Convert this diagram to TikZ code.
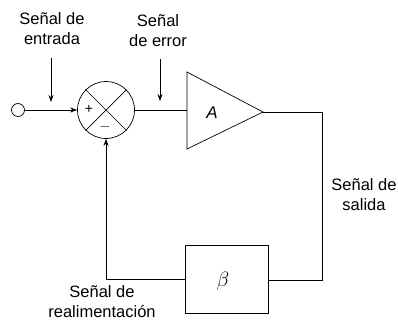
\documentclass[tikz,border=0pt]{standalone}
\usepackage{fontspec}
\setmainfont{Liberation Sans}
\usetikzlibrary{arrows.meta}
\begin{document}
\begin{tikzpicture}[x=1pt,y=-1pt,
  line width=0.7pt,
  lbl/.style={font=\fontsize{16.5}{20}\selectfont, align=center, inner sep=0pt},
  arr/.style={-{Stealth[length=7pt,width=5pt]}},
  sign/.style={font=\fontsize{14}{14}\selectfont, inner sep=0pt}]
\useasboundingbox (0,0) rectangle (398,322);
% input terminal
\node[circle, draw, minimum size=13pt, inner sep=0pt] (in) at (18,110) {};
% summing junction
\node[circle, draw, minimum size=57pt, inner sep=0pt] (sum) at (106,110) {};
\draw (sum.45) -- (sum.225);
\draw (sum.135) -- (sum.315);
\node[sign] (plus) at (89,109) {+};
\node[sign] (minus) at (105,127) {$-$};
% amplifier
\coordinate (ampT) at (187,72);
\coordinate (ampB) at (187,149);
\coordinate (ampL) at (187,110);
\coordinate (ampO) at (263,112);
\draw (ampT) -- (ampO) -- (ampB) -- cycle;
\node[font=\fontsize{17}{17}\selectfont\itshape, inner sep=0pt] (A) at (212,113) {A};
% beta block
\node[draw, minimum width=83pt, minimum height=68pt, inner sep=0pt] (beta) at (226.5,279) {};
\node[font=\fontsize{20}{20}\selectfont, inner sep=0pt] (bl) at (223,281) {$\beta$};
% corner points
\coordinate (c1) at (322,112);
\coordinate (c2) at (322,280);
\coordinate (c3) at (106,279);
% connectors
\draw[arr] (in.east) -- (sum.west);
\draw (sum.east) -- (ampL);
\draw (ampO) -- (c1) -- (c2) -- (beta.east |- c2);
\draw[arr] (beta.west |- c3) -- (c3) -- (sum.south);
% signal arrows
\coordinate (e1) at (51,58);
\coordinate (e2) at (51,102);
\coordinate (r1) at (160,59);
\coordinate (r2) at (160,101);
\draw[arr] (e1) -- (e2);
\draw[arr] (r1) -- (r2);
% labels
\node[lbl] (tin) at (52,29) {Señal de\\entrada};
\node[lbl] (terr) at (158,31) {Señal\\de error};
\node[lbl] (tout) at (364,195) {Señal de\\salida};
\node[lbl] (tfb) at (102,302) {Señal de\\realimentación};
\end{tikzpicture}
\end{document}
